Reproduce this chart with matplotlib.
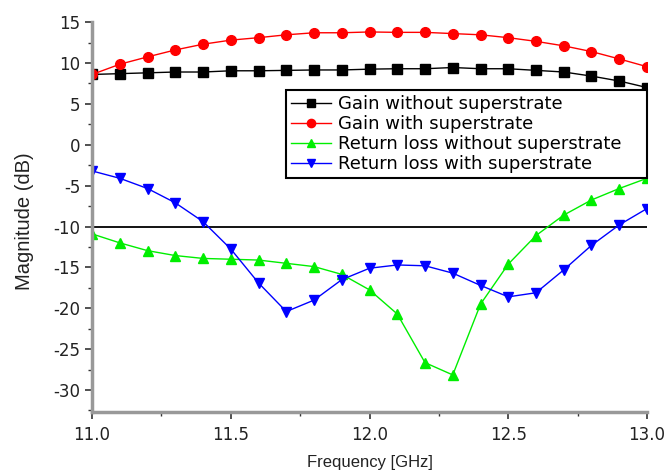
import matplotlib
matplotlib.use("Agg")
import matplotlib.pyplot as plt
from matplotlib.ticker import MultipleLocator

plt.rcParams['font.family'] = ['Liberation Sans', 'DejaVu Sans']
plt.rcParams['axes.unicode_minus'] = False

freq = [11.0, 11.1, 11.2, 11.3, 11.4, 11.5, 11.6, 11.7, 11.8, 11.9, 12.0,
        12.1, 12.2, 12.3, 12.4, 12.5, 12.6, 12.7, 12.8, 12.9, 13.0]
gain_without = [8.6, 8.7, 8.8, 8.9, 8.9, 9.05, 9.05, 9.1, 9.15, 9.15, 9.25,
                9.3, 9.3, 9.45, 9.3, 9.3, 9.1, 8.9, 8.4, 7.8, 7.0]
gain_with = [8.6, 9.85, 10.75, 11.6, 12.3, 12.8, 13.1, 13.45, 13.7, 13.7, 13.8,
             13.75, 13.75, 13.6, 13.45, 13.1, 12.65, 12.1, 11.4, 10.5, 9.55]
rl_without = [-10.9, -12.0, -12.95, -13.55, -13.9, -14.0, -14.1, -14.5, -14.9, -15.85, -17.75,
              -20.7, -26.65, -28.15, -19.5, -14.6, -11.1, -8.6, -6.75, -5.35, -4.1]
rl_with = [-3.2, -4.1, -5.35, -7.1, -9.4, -12.75, -16.9, -20.4, -19.0, -16.5, -15.1,
           -14.7, -14.8, -15.7, -17.2, -18.6, -18.1, -15.3, -12.3, -9.8, -7.8]
threshold = -10

fig = plt.figure(figsize=(6.67, 4.71), dpi=100)
ax = fig.add_axes([0.138, 0.125, 0.832, 0.828])

ms = 7
ax.axhline(threshold, color='black', lw=1.3, zorder=1)
ax.plot(freq, gain_without, '-s', color='black', ms=ms, lw=1.0, label='Gain without superstrate')
ax.plot(freq, gain_with, '-o', color='#ff0000', ms=ms, lw=1.0, label='Gain with superstrate')
ax.plot(freq, rl_without, '-^', color='#00ee00', ms=ms, lw=1.0, label='Return loss without superstrate')
ax.plot(freq, rl_with, '-v', color='#0000ff', ms=ms, lw=1.0, label='Return loss with superstrate')

ax.set_xlim(11.0, 13.0)
ax.set_ylim(-32.7, 15)
ax.set_xticks([11.0, 11.5, 12.0, 12.5, 13.0])
ax.set_xticklabels(['11.0', '11.5', '12.0', '12.5', '13.0'])
ax.set_yticks(list(range(-30, 16, 5)))
ax.xaxis.set_minor_locator(MultipleLocator(0.25))
ax.yaxis.set_minor_locator(MultipleLocator(2.5))

for s in ['top', 'right']:
    ax.spines[s].set_visible(False)
for s in ['left', 'bottom']:
    ax.spines[s].set_color('#999999')
    ax.spines[s].set_linewidth(2.5)

ax.tick_params(axis='both', which='major', length=5, width=1.2, color='#333333',
               labelsize=12, labelcolor='#222222')
for lab in ax.get_xticklabels() + ax.get_yticklabels():
    lab.set_family('DejaVu Sans')
ax.tick_params(axis='x', which='major', pad=5)
ax.tick_params(axis='both', which='minor', length=3, width=1.0, color='#333333')

ax.set_xlabel('Frequency [GHz]', fontsize=12, color='#222222', labelpad=8)
ax.set_ylabel('Magnitude (dB)', fontsize=14.5, color='#222222')
ax.yaxis.set_label_coords(-0.105, 0.49)

leg = ax.legend(loc='upper left', bbox_to_anchor=(0.3495, 0.0, 0.650, 0.826), mode='expand',
                prop={'family': 'DejaVu Sans', 'size': 13},
                frameon=True, fancybox=False, edgecolor='black', framealpha=1,
                borderpad=0.3, labelspacing=0.1, handlelength=2.2, handletextpad=0.4,
                borderaxespad=0, markerscale=0.85)
leg.get_frame().set_linewidth(1.5)

fig.savefig('out.png', dpi=100)
